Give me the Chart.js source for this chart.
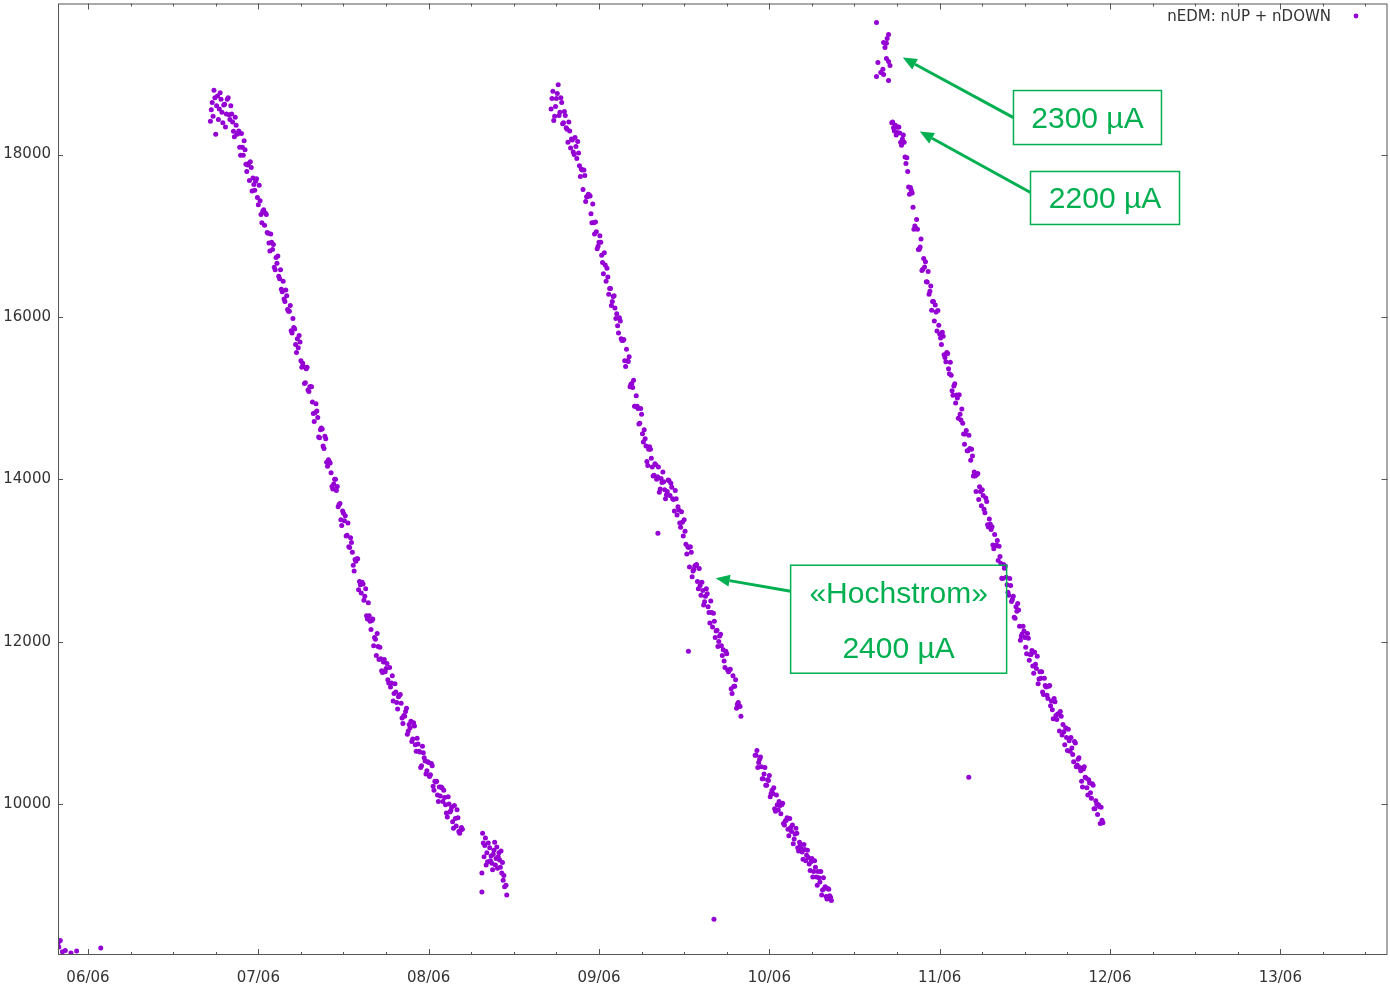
<!DOCTYPE html>
<html>
<head>
<meta charset="utf-8">
<title>nEDM: nUP + nDOWN</title>
<script src="https://cdn.jsdelivr.net/npm/chart.js@4.4.1/dist/chart.umd.min.js"></script>
<style>
  html, body { margin: 0; padding: 0; background: #fff; }
  #wrap { position: relative; width: 1390px; height: 987px; }
</style>
</head>
<body>
<div id="wrap"><canvas id="nedm"></canvas></div>
<script>
// [hours since 06/06 00:00, counts nUP + nDOWN]
const startPoints = [
    [-4.2, 8290], [-4.1, 8240], [-3.9, 8320], [-3.6, 8180], [-3.2, 8195], [-2.4, 8165], [-1.6, 8190], [1.8, 8225]
];

const run1Points = [
    [17.25, 18410], [17.5, 18640], [17.75, 18790], [18, 18250], [18.25, 18720], [18.5, 18560], [18.75, 18680], [19, 18390],
    [19.25, 18620], [19.5, 18500], [19.75, 18700], [20, 18430], [20.25, 18500], [20.5, 18285], [20.75, 18460], [21, 18250],
    [21.25, 18290], [21.5, 17990], [21.75, 18090], [22, 18170], [22.25, 17880], [22.5, 17870], [22.75, 17680], [23, 17840],
    [23.25, 17710], [23.5, 17560], [23.75, 17700], [24, 17380], [24.25, 17430], [24.5, 17160], [24.75, 17320], [25, 17280],
    [25.25, 17040], [25.5, 16910], [25.75, 17020], [26, 16830], [26.25, 16610], [26.5, 16730], [26.75, 16750], [27, 16470],
    [27.25, 16340], [27.5, 16440], [27.75, 16190], [28, 16260], [28.25, 16070], [28.5, 16140], [28.75, 15800], [29, 15870],
    [29.25, 15660], [29.5, 15730], [29.75, 15770], [30, 15460], [30.25, 15430], [30.5, 15180], [30.75, 15360], [31, 15100],
    [31.25, 15140], [31.5, 15140], [31.75, 14810], [32, 14820], [32.25, 14840], [32.5, 14520], [32.75, 14610], [33, 14620],
    [33.25, 14380], [33.5, 14500], [33.75, 14160], [34, 14220], [34.25, 14080], [34.5, 13880], [34.75, 14000], [35, 13860],
    [35.25, 13660], [35.5, 13700], [35.75, 13430], [36, 13580], [36.25, 13550], [36.5, 13310], [36.75, 13170], [37, 13280],
    [37.25, 13100], [37.5, 12870], [37.75, 12990], [38, 13020], [38.25, 12740], [38.5, 12600], [38.75, 12710], [39, 12560],
    [39.25, 12320], [39.5, 12480], [39.75, 12250], [40, 12260], [40.25, 11950], [40.5, 12030], [40.75, 12100], [41, 11780],
    [41.25, 11790], [41.5, 11620], [41.75, 11780], [42, 11670], [42.25, 11530], [42.5, 11680], [42.75, 11490], [43, 11270],
    [43.25, 11480], [43.5, 11250], [43.75, 11320], [44, 11350], [44.25, 11060], [44.5, 11090], [44.75, 11140], [45, 10860],
    [45.25, 10980], [45.5, 11020], [45.75, 10800], [46, 10960], [46.25, 10650], [46.5, 10740], [46.75, 10640], [47, 10470],
    [47.25, 10630], [47.5, 10530], [47.75, 10410], [48, 10510], [48.25, 10360], [48.5, 10470], [48.75, 10170], [49, 10270],
    [49.25, 10110], [49.5, 10210], [49.75, 10210], [50, 10030], [50.25, 10080], [50.5, 9890], [50.75, 10090], [51, 9900],
    [51.25, 9960], [51.5, 9700], [51.75, 9820], [52, 9930], [52.25, 9660], [52.5, 9680], [52.75, 9690],
    [17.375, 18550], [17.625, 18470], [17.875, 18700], [18.125, 18600], [18.375, 18430], [18.625, 18760], [18.875, 18520],
    [19.125, 18610], [19.375, 18340], [19.625, 18680], [19.875, 18490], [20.125, 18600], [20.375, 18400], [20.625, 18220],
    [20.875, 18360], [21.125, 18260], [21.375, 18090], [21.625, 18260], [21.875, 17990], [22.125, 18060], [22.375, 17790],
    [22.625, 17890], [22.875, 17910], [23.125, 17550], [23.375, 17630], [23.625, 17670], [23.875, 17470], [24.125, 17620],
    [24.375, 17260], [24.625, 17300], [24.875, 17130], [25.125, 17260], [25.375, 17030], [25.625, 16810], [25.875, 16920],
    [26.125, 16890], [26.375, 16580], [26.625, 16660], [26.875, 16500], [27.125, 16580], [27.375, 16310], [27.625, 16220],
    [27.875, 16330], [28.125, 16090], [28.375, 16070], [28.625, 15830], [28.875, 15980], [29.125, 15850], [29.375, 15560],
    [29.625, 15620], [29.875, 15690], [30.125, 15380], [30.375, 15390], [30.625, 15190], [30.875, 15380], [31.125, 15080],
    [31.375, 15140], [31.625, 14950], [31.875, 14710], [32.125, 14930], [32.375, 14760], [32.625, 14510], [32.875, 14630],
    [33.125, 14410], [33.375, 14530], [33.625, 14210], [33.875, 14240], [34.125, 14200], [34.375, 13910], [34.625, 13940],
    [34.875, 14000], [35.125, 13910], [35.375, 13690], [35.625, 13500], [35.875, 13610], [36.125, 13490], [36.375, 13300],
    [36.625, 13460], [36.875, 13160], [37.125, 13220], [37.375, 12940], [37.625, 13010], [37.875, 13020], [38.125, 12640],
    [38.375, 12700], [38.625, 12730], [38.875, 12510], [39.125, 12650], [39.375, 12280], [39.625, 12320], [39.875, 12150],
    [40.125, 12280], [40.375, 12050], [40.625, 11830], [40.875, 11940], [41.125, 11930], [41.375, 11640], [41.625, 11750],
    [41.875, 11630], [42.125, 11730], [42.375, 11490], [42.625, 11440], [42.875, 11580], [43.125, 11360], [43.375, 11380],
    [43.625, 11170], [43.875, 11340], [44.125, 11240], [44.375, 10990], [44.625, 11080], [44.875, 11180], [45.125, 10900],
    [45.375, 10940], [45.625, 10770], [45.875, 11000], [46.125, 10730], [46.375, 10810], [46.625, 10650], [46.875, 10450],
    [47.125, 10710], [47.375, 10570], [47.625, 10370], [47.875, 10520], [48.125, 10340], [48.375, 10500], [48.625, 10220],
    [48.875, 10280], [49.125, 10280], [49.375, 10030], [49.625, 10100], [49.875, 10200], [50.125, 10170], [50.375, 9990],
    [50.625, 9840], [50.875, 10000], [51.125, 9920], [51.375, 9780], [51.625, 9980], [51.875, 9730], [52.125, 9830],
    [52.375, 9640], [52.625, 9710]
];

const run1TailPoints = [
    [55.5, 9150], [55.5, 8915], [55.6, 9640], [55.9, 9490], [56.0, 9580], [56.2, 9400], [56.3, 9290], [56.6, 9460],
    [56.8, 9360], [56.9, 9270], [57.0, 9190], [57.2, 9430], [57.3, 9530], [57.5, 9330], [57.6, 9470], [57.7, 9210],
    [57.9, 9400], [58.0, 9310], [58.3, 9150], [58.5, 9060], [58.7, 8980], [59.0, 8880], [55.7, 9520], [55.8, 9350],
    [56.1, 9250], [56.4, 9520], [56.7, 9300], [57.1, 9380], [57.4, 9250], [57.8, 9350], [58.1, 9220], [58.2, 9420],
    [58.4, 9280], [58.6, 9120], [58.9, 9000]
];

const run2Points = [
    [65.25, 18560], [65.5, 18780], [65.75, 18470], [66, 18690], [66.25, 18860], [66.5, 18520], [66.75, 18640], [67, 18390],
    [67.25, 18480], [67.5, 18310], [67.75, 18400], [68, 18080], [68.25, 18180], [68.5, 18000], [68.75, 18100], [69, 18160],
    [69.25, 17860], [69.5, 17820], [69.75, 17570], [70, 17740], [70.25, 17480], [70.5, 17510], [70.75, 17490], [71, 17160],
    [71.25, 17160], [71.5, 17170], [71.75, 16840], [72, 16920], [72.25, 16920], [72.5, 16670], [72.75, 16790], [73, 16440],
    [73.25, 16490], [73.5, 16350], [73.75, 16140], [74, 16250], [74.25, 16110], [74.5, 16040], [74.75, 15800], [75, 15950],
    [75.25, 15710], [75.5, 15720], [75.75, 15390], [76, 15460], [76.25, 15510], [76.5, 15170], [76.75, 15130], [77, 14900],
    [77.25, 15030], [77.5, 14870], [77.75, 14690], [78, 14800], [78.25, 14460], [78.5, 14500], [78.75, 14220], [79, 14370],
    [79.25, 14370], [79.5, 14150], [79.75, 14050], [80, 14180], [80.25, 14030], [80.5, 13840], [80.75, 14010], [81, 14090],
    [81.25, 13870], [81.5, 13810], [81.75, 13990], [82, 13800], [82.25, 13900], [82.5, 13750], [82.75, 13860], [83, 13560],
    [83.25, 13620], [83.5, 13410], [83.75, 13470], [84, 13500], [84.25, 13200], [84.5, 13170], [84.75, 12920], [85, 13100],
    [85.25, 12870], [85.5, 12930], [85.75, 12950], [86, 12650], [86.25, 12690], [86.5, 12730], [86.75, 12450], [87, 12560],
    [87.25, 12590], [87.5, 12360], [87.75, 12500], [88, 12180], [88.25, 12250], [88.5, 12130], [88.75, 11940], [89, 12070],
    [89.25, 11950], [89.5, 11900], [89.75, 11680], [90, 11850], [90.25, 11630], [90.5, 11660], [90.75, 11360], [91, 11450],
    [91.25, 11530], [91.5, 11230], [91.75, 11210], [92, 11080],
    [65.375, 18690], [65.625, 18420], [65.875, 18590], [66.125, 18750], [66.375, 18480], [66.625, 18700], [66.875, 18380],
    [67.125, 18530], [67.375, 18330], [67.625, 18150], [67.875, 18290], [68.125, 18190], [68.375, 18030], [68.625, 18210],
    [68.875, 17950], [69.125, 18020], [69.375, 17730], [69.625, 17810], [69.875, 17810], [70.125, 17420], [70.375, 17480],
    [70.625, 17500], [70.875, 17270], [71.125, 17390], [71.375, 17020], [71.625, 17050], [71.875, 16870], [72.125, 17000],
    [72.375, 16760], [72.625, 16530], [72.875, 16640], [73.125, 16600], [73.375, 16280], [73.625, 16350], [73.875, 16190],
    [74.125, 16260], [74.375, 15980], [74.625, 15890], [74.875, 15990], [75.125, 15730], [75.375, 15710], [75.625, 15460],
    [75.875, 15600], [76.125, 15450], [76.375, 15140], [76.625, 15180], [76.875, 15220], [77.125, 14900], [77.375, 14900],
    [77.625, 14680], [77.875, 14870], [78.125, 14560], [78.375, 14610], [78.625, 14410], [78.875, 14170], [79.125, 14400],
    [79.375, 14260], [79.625, 14040], [79.875, 14190], [80.125, 14000], [80.375, 14150], [80.625, 13880], [80.875, 13960],
    [81.125, 13970], [81.375, 13760], [81.625, 13850], [81.875, 13980], [82.125, 13950], [82.375, 13760], [82.625, 13610],
    [82.875, 13760], [83.125, 13660], [83.375, 13460], [83.625, 13600], [83.875, 13300], [84.125, 13360], [84.375, 13080],
    [84.625, 13160], [84.875, 13170], [85.125, 12800], [85.375, 12890], [85.625, 12940], [85.875, 12740], [86.125, 12900],
    [86.375, 12570], [86.625, 12630], [86.875, 12490], [87.125, 12650], [87.375, 12430], [87.625, 12230], [87.875, 12360],
    [88.125, 12350], [88.375, 12050], [88.625, 12140], [88.875, 12000], [89.125, 12090], [89.375, 11830], [89.625, 11760],
    [89.875, 11880], [90.125, 11650], [90.375, 11650], [90.625, 11420], [90.875, 11580], [91.125, 11450], [91.375, 11180],
    [91.625, 11250], [91.875, 11200]
];

const run2TailPoints = [
    [94, 10600], [94.25, 10660], [94.5, 10510], [94.75, 10580], [95, 10310], [95.25, 10370], [95.5, 10230], [95.75, 10300],
    [96, 10350], [96.25, 10130], [96.5, 10130], [96.75, 9940], [97, 10110], [97.25, 9930], [97.5, 9980], [97.75, 9990],
    [98, 9760], [98.25, 9790], [98.5, 9830], [98.75, 9610], [99, 9710], [99.25, 9740], [99.5, 9570], [99.75, 9700],
    [100, 9460], [100.25, 9530], [100.5, 9450], [100.75, 9320], [101, 9440], [101.25, 9370], [101.5, 9340], [101.75, 9180],
    [102, 9330], [102.25, 9170], [102.5, 9220], [102.75, 9000], [103, 9090], [103.25, 9170], [103.5, 8940], [103.75, 8960],
    [104, 8860], [104.25, 8960], [104.5, 8870], [104.75, 8810],
    [94.125, 10600], [94.375, 10450], [94.625, 10550], [94.875, 10460], [95.125, 10310], [95.375, 10450], [95.625, 10230],
    [95.875, 10290], [96.125, 10090], [96.375, 10170], [96.625, 10200], [96.875, 9910], [97.125, 9990], [97.375, 10030],
    [97.625, 9880], [97.875, 10010], [98.125, 9740], [98.375, 9800], [98.625, 9690], [98.875, 9820], [99.125, 9660],
    [99.375, 9510], [99.625, 9630], [99.875, 9640], [100.125, 9420], [100.375, 9500], [100.625, 9410], [100.875, 9500],
    [101.125, 9300], [101.375, 9430], [101.625, 9260], [101.875, 9290], [102.125, 9100], [102.375, 9300], [102.625, 9100],
    [102.875, 9170], [103.125, 9040], [103.375, 8880], [103.625, 9090], [103.875, 8980], [104.125, 8830], [104.375, 8950],
    [104.625, 8850]
];

const run3HighPoints = [
    [111.1, 19625], [112.8, 19477], [112.1, 19380], [112.5, 19370], [112.3, 19317], [112.5, 19182], [112.8, 19145],
    [111.3, 19133], [113.0, 19096], [111.7, 19010], [112.1, 18985], [111.1, 18960], [112.8, 18911], [112.6, 19430],
    [112.0, 19050]
];

const run3Points = [
    [113.25, 18390], [113.5, 18330], [113.75, 18360], [114, 18270], [114.25, 18340], [114.5, 18150], [114.75, 18190], [115, 18150],
    [115.25, 17890], [115.5, 17790], [115.75, 17510], [116, 17560], [116.25, 17350], [116.5, 17120], [116.75, 17200], [117, 16830],
    [117.25, 16860], [117.5, 16570], [117.75, 16720], [118, 16680], [118.25, 16430], [118.5, 16280], [118.75, 16380], [119, 16190],
    [119.25, 15950], [119.5, 16060], [119.75, 16080], [120, 15790], [120.25, 15660], [120.5, 15760], [120.75, 15500], [121, 15560],
    [121.25, 15360], [121.5, 15440], [121.75, 15090], [122, 15150], [122.25, 14940], [122.5, 15000], [122.75, 15040], [123, 14730],
    [123.25, 14690], [123.5, 14430], [123.75, 14600], [124, 14350], [124.25, 14380], [124.5, 14370], [124.75, 14040], [125, 14040],
    [125.25, 14060], [125.5, 13750], [125.75, 13850], [126, 13870], [126.25, 13630], [126.5, 13770], [126.75, 13440], [127, 13510],
    [127.25, 13380], [127.5, 13190], [127.75, 13320], [128, 13190], [128.25, 13000], [128.5, 13050], [128.75, 12780], [129, 12950],
    [129.25, 12930], [129.5, 12700], [129.75, 12570], [130, 12690], [130.25, 12520], [130.5, 12300], [130.75, 12430], [131, 12470],
    [131.25, 12190], [131.5, 12070], [131.75, 12190], [132, 12050], [132.25, 11850], [132.5, 12040], [132.75, 11840], [133, 11890],
    [133.25, 11610], [133.5, 11720], [133.75, 11820], [134, 11540], [134.25, 11550], [134.5, 11380], [134.75, 11550], [135, 11440],
    [135.25, 11300], [135.5, 11460], [135.75, 11270], [136, 11050], [136.25, 11260], [136.5, 11040], [136.75, 11110], [137, 11140],
    [137.25, 10850], [137.5, 10890], [137.75, 10940], [138, 10660], [138.25, 10780], [138.5, 10820], [138.75, 10610], [139, 10770],
    [139.25, 10460], [139.5, 10550], [139.75, 10450], [140, 10280], [140.25, 10430], [140.5, 10330], [140.75, 10200], [141, 10300],
    [141.25, 10140], [141.5, 10250], [141.75, 9940], [142, 10040], [142.25, 9870], [142.5, 9970], [142.75, 9960], [143, 9770],
    [113.375, 18400], [113.625, 18290], [113.875, 18240], [114.125, 18335], [114.375, 18265], [114.625, 18115], [114.875, 18240],
    [115.125, 17970], [115.375, 17960], [115.625, 17600], [115.875, 17595], [116.125, 17525], [116.375, 17080], [116.625, 17095],
    [116.875, 17080], [117.125, 16834], [117.375, 16960], [117.625, 16588], [117.875, 16615], [118.125, 16432], [118.375, 16559],
    [118.625, 16316], [118.875, 16083], [119.125, 16190], [119.375, 16147], [119.625, 15826], [119.875, 15898], [120.125, 15740],
    [120.375, 15812], [120.625, 15534], [120.875, 15446], [121.125, 15548], [121.375, 15300], [121.625, 15282], [121.875, 15034],
    [122.125, 15176], [122.375, 15038], [122.625, 14750], [122.875, 14802], [123.125, 14864], [123.375, 14556], [123.625, 14558],
    [123.875, 14350], [124.125, 14542], [124.375, 14234], [124.625, 14286], [124.875, 14088], [125.125, 13850], [125.375, 14070],
    [125.625, 13907], [125.875, 13674], [126.125, 13801], [126.375, 13588], [126.625, 13725], [126.875, 13412], [127.125, 13449],
    [127.375, 13416], [127.625, 13143], [127.875, 13180], [128.125, 13247], [128.375, 13174], [128.625, 12961], [128.875, 12778],
    [129.125, 12905], [129.375, 12792], [129.625, 12609], [129.875, 12776], [130.125, 12493], [130.375, 12560], [130.625, 12287],
    [130.875, 12374], [131.125, 12391], [131.375, 12018], [131.625, 12095], [131.875, 12132], [132.125, 11930], [132.375, 12100],
    [132.625, 11770], [132.875, 11840], [133.125, 11700], [133.375, 11870], [133.625, 11670], [133.875, 11480], [134.125, 11630],
    [134.375, 11630], [134.625, 11350], [134.875, 11460], [135.125, 11340], [135.375, 11450], [135.625, 11210], [135.875, 11160],
    [136.125, 11300], [136.375, 11090], [136.625, 11110], [136.875, 10900], [137.125, 11080], [137.375, 10980], [137.625, 10730],
    [137.875, 10820], [138.125, 10920], [138.375, 10650], [138.625, 10690], [138.875, 10520], [139.125, 10750], [139.375, 10480],
    [139.625, 10570], [139.875, 10410], [140.125, 10210], [140.375, 10460], [140.625, 10320], [140.875, 10110], [141.125, 10260],
    [141.375, 10070], [141.625, 10230], [141.875, 9940], [142.125, 10000], [142.375, 9990], [142.625, 9760], [142.875, 9800]
];

const strayPoints = [[80.3, 13335], [84.6, 11880], [88.2, 8580], [124.1, 10330]];

const dayHours = [0, 24, 48, 72, 96, 120, 144, 168];
const dayLabels = ["06/06", "07/06", "08/06", "09/06", "10/06", "11/06", "12/06", "13/06"];
const countTicks = [10000, 12000, 14000, 16000, 18000];
const seriesLabel = "nEDM: nUP + nDOWN";
const calloutTexts = [["2300 µA"], ["2200 µA"], ["«Hochstrom»", "2400 µA"]];

// callout boxes: top-left corner and arrow ends in data units, box size in px
const callouts = [
    { box: [130.4, 18788], w: 148, h: 54, from: [130.4, 18455], to: [114.8, 19194], rows: [29] },
    { box: [132.8, 17791], w: 149, h: 53, from: [132.8, 17532], to: [117.2, 18283], rows: [28] },
    { box: [99.0, 12941], w: 216, h: 108, from: [99.0, 12620], to: [88.45, 12781], rows: [30, 85] },
];

const PURPLE = "#9400d3";
const GREEN = "#00b050";
const FRAME = "#555555";
const TEXT = "#333333";

const allPoints = [].concat(
    startPoints, run1Points, run1TailPoints, run2Points, run2TailPoints,
    run3HighPoints, run3Points, strayPoints
).map(([x, y]) => ({ x, y }));

function drawArrow(ctx, x1, y1, x2, y2) {
    const ang = Math.atan2(y2 - y1, x2 - x1);
    const head = 14, half = 6;
    const bx = x2 - head * Math.cos(ang), by = y2 - head * Math.sin(ang);
    ctx.beginPath();
    ctx.moveTo(x1, y1);
    ctx.lineTo(bx, by);
    ctx.stroke();
    ctx.beginPath();
    ctx.moveTo(x2, y2);
    ctx.lineTo(bx + half * Math.sin(ang), by - half * Math.cos(ang));
    ctx.lineTo(bx - half * Math.sin(ang), by + half * Math.cos(ang));
    ctx.closePath();
    ctx.fill();
}

// frame, inward tick marks, key and callouts
const framePlugin = {
    id: "frame",
    afterDatasetsDraw(chart) {
        const { ctx, chartArea: a, scales } = chart;
        const xs = scales.x, ys = scales.y;
        ctx.save();
        ctx.strokeStyle = FRAME;
        ctx.lineWidth = 1;
        ctx.strokeRect(a.left + 0.5, a.top + 0.5, a.right - a.left - 1, a.bottom - a.top - 1);

        ctx.beginPath();
        for (let h = 6 * Math.ceil(xs.min / 6); h <= xs.max; h += 6) {
            const px = Math.round(xs.getPixelForValue(h)) + 0.5;
            const len = h % 24 === 0 ? 6 : 3;
            ctx.moveTo(px, a.bottom);
            ctx.lineTo(px, a.bottom - len);
            ctx.moveTo(px, a.top);
            ctx.lineTo(px, a.top + len);
        }
        countTicks.forEach((v) => {
            const py = Math.round(ys.getPixelForValue(v)) + 0.5;
            ctx.moveTo(a.left, py);
            ctx.lineTo(a.left + 5, py);
            ctx.moveTo(a.right, py);
            ctx.lineTo(a.right - 6, py);
        });
        ctx.stroke();

        // key
        ctx.font = '15px "DejaVu Sans"';
        ctx.fillStyle = TEXT;
        ctx.textAlign = "right";
        ctx.textBaseline = "middle";
        ctx.fillText(seriesLabel, 1331, 17);
        ctx.fillStyle = PURPLE;
        ctx.beginPath();
        ctx.arc(1356, 16, 2.4, 0, Math.PI * 2);
        ctx.fill();

        // callouts
        ctx.strokeStyle = GREEN;
        ctx.fillStyle = GREEN;
        callouts.forEach((c, i) => {
            const bx = xs.getPixelForValue(c.box[0]);
            const by = ys.getPixelForValue(c.box[1]);
            ctx.lineWidth = 1.5;
            ctx.strokeRect(bx, by, c.w, c.h);
            ctx.font = '30px "Liberation Sans", Arial, sans-serif';
            ctx.textAlign = "center";
            ctx.textBaseline = "middle";
            calloutTexts[i].forEach((t, j) => ctx.fillText(t, bx + c.w / 2, by + c.rows[j]));
            ctx.lineWidth = 3;
            drawArrow(ctx,
                xs.getPixelForValue(c.from[0]), ys.getPixelForValue(c.from[1]),
                xs.getPixelForValue(c.to[0]), ys.getPixelForValue(c.to[1]));
        });
        ctx.restore();
    },
};

new Chart(document.getElementById("nedm"), {
    type: "scatter",
    data: {
        datasets: [{
            label: seriesLabel,
            data: allPoints,
            pointRadius: 2.5,
            pointBorderWidth: 0,
            pointBackgroundColor: PURPLE,
            pointHoverRadius: 2.5,
        }],
    },
    options: {
        responsive: true,
        maintainAspectRatio: false,
        animation: false,
        layout: { padding: { top: 3.5, right: 2, left: 0, bottom: 0 } },
        plugins: { legend: { display: false }, tooltip: { enabled: false } },
        scales: {
            x: {
                type: "linear",
                min: -4.225,
                max: 183.1,
                border: { display: false },
                grid: { display: false, drawTicks: false },
                afterBuildTicks: (s) => { s.ticks = dayHours.map((v) => ({ value: v })); },
                afterFit: (s) => { s.height = 32; s.paddingLeft = 0; s.paddingRight = 0; },
                ticks: {
                    autoSkip: false,
                    maxRotation: 0,
                    padding: 14,
                    color: TEXT,
                    font: { family: "DejaVu Sans", size: 15 },
                    callback: (value, index) => dayLabels[index],
                },
            },
            y: {
                min: 8140,
                max: 19860,
                border: { display: false },
                grid: { display: false, drawTicks: false },
                afterBuildTicks: (s) => { s.ticks = countTicks.map((v) => ({ value: v })); },
                afterFit: (s) => { s.width = 58; s.paddingTop = 0; s.paddingBottom = 0; },
                ticks: {
                    padding: 7,
                    color: TEXT,
                    font: { family: "DejaVu Sans", size: 15 },
                    callback: (value) => String(value),
                },
            },
        },
    },
    plugins: [framePlugin],
});
</script>
</body>
</html>
